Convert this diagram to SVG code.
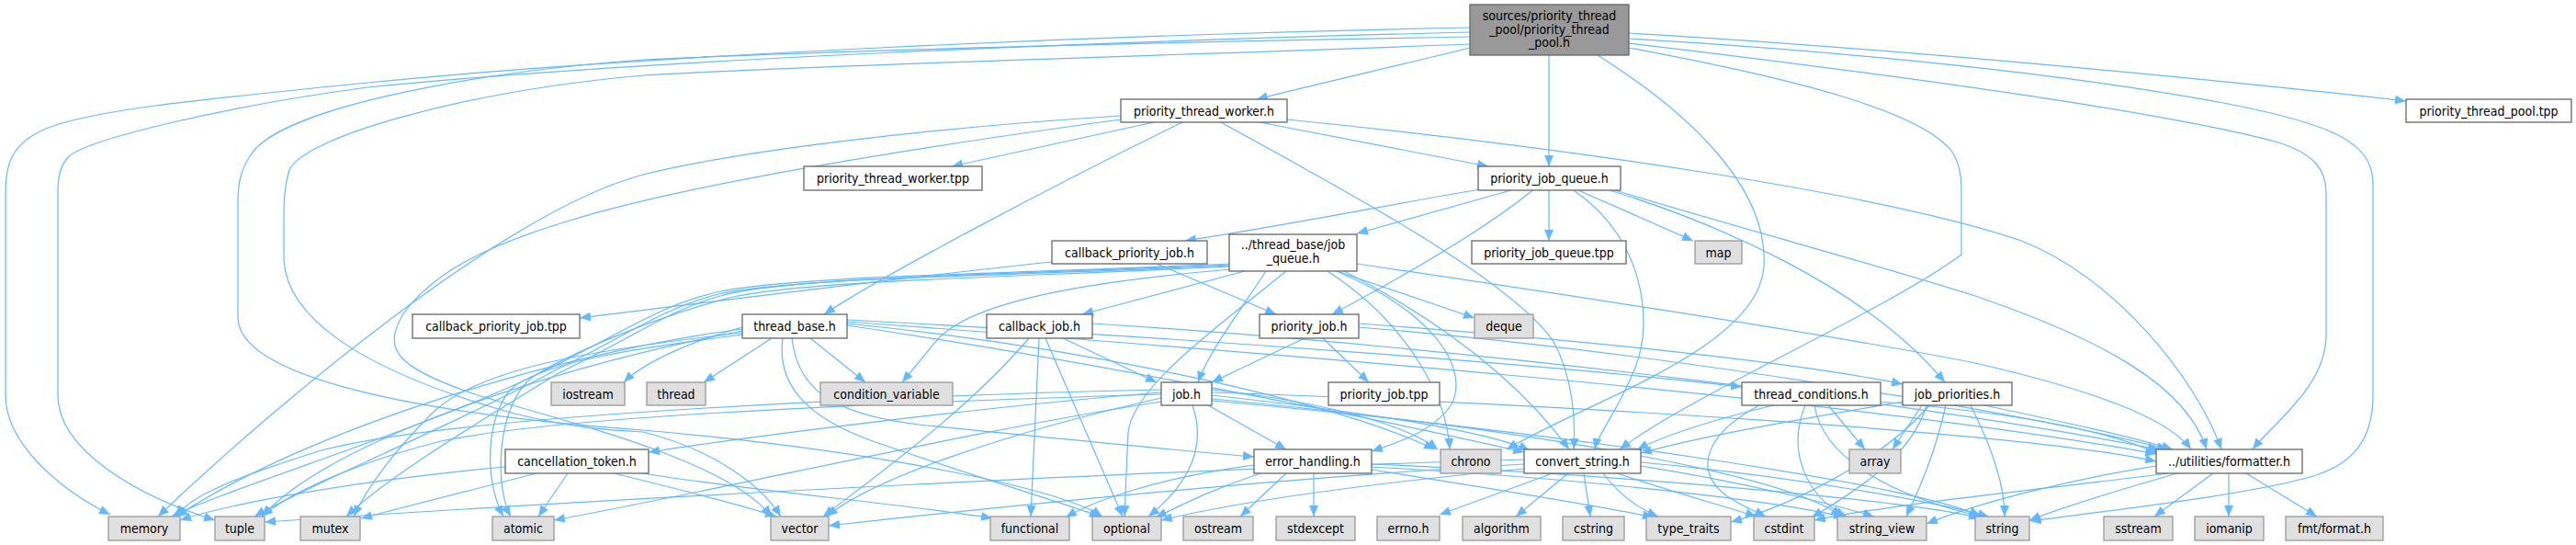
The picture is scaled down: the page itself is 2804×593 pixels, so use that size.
<svg xmlns="http://www.w3.org/2000/svg" width="2804" height="593" viewBox="0 0 2804 593">
<style>
.e{fill:none;stroke:#63b8ff;stroke-width:1.2;marker-end:url(#a)}
.n rect{fill:#fff;stroke:#666;stroke-width:1.3}
.x rect{fill:#e0e0e0;stroke:#999;stroke-width:1.3}
.r rect{fill:#999;stroke:#666;stroke-width:1.3}
text{font-family:"DejaVu Sans Condensed","DejaVu Sans",sans-serif;font-stretch:condensed;font-size:14px;text-anchor:middle;fill:#000}
</style>
<defs>
<marker id="a" viewBox="0 0 12 10" refX="12" refY="5" markerWidth="12" markerHeight="10" orient="auto" markerUnits="userSpaceOnUse"><path d="M0,0 L12,5 L0,10 z" fill="#63b8ff"/></marker>
</defs>
<rect width="2804" height="593" fill="#fff"/>
<g id="edges">
<path class="e" d="M1600,52 C1520,72 1430,92 1368,108"/>
<path class="e" d="M1686,60 L1686,181"/>
<path class="e" d="M1773,36 C2050,52 2400,85 2619,110"/>
<path class="e" d="M1773,42 C2000,55 2250,80 2420,112 C2540,135 2583,155 2583,200 L2583,430 C2583,480 2560,505 2518,518 C2450,538 2300,555 2210,567"/>
<path class="e" d="M1773,47 C2050,80 2350,120 2480,155 C2520,168 2532,185 2532,210 L2532,365 C2532,420 2475,460 2452,489"/>
<path class="e" d="M1773,52 C1950,85 2090,120 2125,165 C2133,178 2135,190 2135,205 L2135,277 C2050,340 1840,430 1763,489"/>
<path class="e" d="M1739,60 C1850,130 1925,210 1920,290 C1915,380 1720,440 1640,489"/>
<path class="e" d="M1600,30 C1200,38 700,60 400,90 C200,110 100,120 50,140 C15,155 6,175 6,210 L6,430 C6,480 60,530 120,560"/>
<path class="e" d="M1600,35 C1200,45 700,65 400,95 C250,115 100,150 75,170 C66,180 63,190 63,210 L63,430 C63,490 150,540 234,566"/>
<path class="e" d="M1600,40 C1300,45 900,55 700,65 C500,80 300,120 272,170 C262,185 259,200 259,220 L259,345 C259,410 450,450 700,468 C950,490 1150,530 1200,562"/>
<path class="e" d="M1600,48 C1300,60 900,70 700,82 C500,100 330,150 315,185 C310,200 309,215 309,240 L309,283 C312,340 380,400 560,450 C620,465 660,468 700,470 C780,490 830,530 850,562"/>
<path class="e" d="M1256,133 L1036,181"/>
<path class="e" d="M1371,133 L1620,181"/>
<path class="e" d="M1287,133 C1150,200 960,300 897,342"/>
<path class="e" d="M1329,133 C1450,200 1640,300 1690,370 C1713,410 1715,460 1713,489"/>
<path class="e" d="M1401,130 C1700,160 2050,210 2200,262 C2300,300 2390,410 2418,489"/>
<path class="e" d="M1220,126 C1000,140 800,165 700,190 C550,230 300,440 172,562"/>
<path class="e" d="M1220,130 C1000,160 750,200 620,240 C520,270 470,300 440,340 C415,380 430,400 520,430 C620,460 790,500 840,562"/>
<path class="e" d="M1611,206 C1500,225 1400,245 1290,262"/>
<path class="e" d="M1645,207 L1477,254"/>
<path class="e" d="M1668,207 C1610,255 1510,310 1450,342"/>
<path class="e" d="M1686,207 L1686,262"/>
<path class="e" d="M1713,207 C1790,260 1800,350 1780,400 C1760,450 1740,470 1736,489"/>
<path class="e" d="M1718,207 L1843,262"/>
<path class="e" d="M1752,207 C1860,240 2030,310 2117,416"/>
<path class="e" d="M1758,207 C1900,250 2050,290 2150,322 C2290,370 2380,420 2402,489"/>
<path class="e" d="M1145,285 C1000,300 800,325 631,346"/>
<path class="e" d="M1259,287 L1389,342"/>
<path class="e" d="M1355,295 L1178,342"/>
<path class="e" d="M1378,295 C1345,345 1315,385 1304,416"/>
<path class="e" d="M1455,295 L1605,346"/>
<path class="e" d="M1340,293 C1200,305 1060,325 1020,370 L982,416"/>
<path class="e" d="M1338,288 C1100,299 860,301 784,322 C726,338 688,368 608,406 C520,460 420,520 377,562"/>
<path class="e" d="M1338,290 C1100,302 860,305 786,326 C700,350 620,385 580,410 C540,440 538,530 556,562"/>
<path class="e" d="M1338,289 C1100,300 860,302 782,320 C722,335 684,364 604,403 C500,460 330,530 277,562"/>
<path class="e" d="M1338,287 C1100,298 860,300 780,318 C720,332 680,360 600,400 C470,465 250,530 187,562"/>
<path class="e" d="M1400,295 C1320,360 1235,420 1228,470 L1224,562"/>
<path class="e" d="M1455,295 C1560,340 1600,400 1580,440 C1560,470 1520,482 1493,491"/>
<path class="e" d="M1463,295 C1560,345 1650,410 1708,489"/>
<path class="e" d="M1477,287 C1700,320 2000,365 2150,395 C2280,425 2360,455 2385,489"/>
<path class="e" d="M1445,295 C1530,350 1575,430 1578,489"/>
<path class="e" d="M840,368 L766,416"/>
<path class="e" d="M882,368 L942,416"/>
<path class="e" d="M808,356 C750,372 700,395 679,416"/>
<path class="e" d="M808,358 C600,385 330,470 192,562"/>
<path class="e" d="M808,362 C650,380 520,400 470,450 C430,490 400,530 385,562"/>
<path class="e" d="M808,364 C700,378 600,392 560,420 C530,445 525,520 548,562"/>
<path class="e" d="M808,360 C600,400 360,480 285,562"/>
<path class="e" d="M922,352 C1200,380 1460,440 1562,489"/>
<path class="e" d="M922,354 C1200,395 1520,460 1659,492"/>
<path class="e" d="M922,350 C1300,378 2000,430 2347,494"/>
<path class="e" d="M922,348 C1300,368 1700,398 1896,421"/>
<path class="e" d="M862,368 C868,420 900,450 1000,462 C1200,482 1300,492 1365,497"/>
<path class="e" d="M852,368 C845,420 880,455 950,480 C1050,515 1150,545 1198,562"/>
<path class="e" d="M1157,368 L1259,416"/>
<path class="e" d="M1120,368 C1050,450 950,520 896,562"/>
<path class="e" d="M1131,368 L1122,562"/>
<path class="e" d="M1138,368 L1222,562"/>
<path class="e" d="M1189,352 C1600,378 2100,440 2350,489"/>
<path class="e" d="M1420,368 L1319,416"/>
<path class="e" d="M1440,368 L1490,416"/>
<path class="e" d="M1479,352 C1700,368 1950,393 2071,418"/>
<path class="e" d="M1479,356 C1800,382 2200,448 2360,489"/>
<path class="e" d="M1264,427 C1100,440 850,470 706,492"/>
<path class="e" d="M1264,424 C1000,430 500,450 350,490 C260,518 205,540 192,562"/>
<path class="e" d="M1264,429 C900,440 600,455 480,480 C380,505 310,540 285,562"/>
<path class="e" d="M1264,433 C1100,470 950,520 900,562"/>
<path class="e" d="M1264,437 C1050,470 800,530 603,566"/>
<path class="e" d="M1298,441 C1315,490 1290,530 1250,562"/>
<path class="e" d="M1315,441 L1400,489"/>
<path class="e" d="M1319,424 C1450,438 1535,465 1565,489"/>
<path class="e" d="M1319,430 C1500,450 1620,470 1665,490"/>
<path class="e" d="M1319,427 C1700,440 2200,470 2347,502"/>
<path class="e" d="M1319,436 C1700,470 2100,530 2155,562"/>
<path class="e" d="M1319,434 C1700,470 1950,520 2005,562"/>
<path class="e" d="M550,508 C400,522 260,545 196,566"/>
<path class="e" d="M584,515 L393,564"/>
<path class="e" d="M618,515 L586,562"/>
<path class="e" d="M668,515 C750,535 810,550 845,562"/>
<path class="e" d="M700,515 C800,532 1000,550 1080,564"/>
<path class="e" d="M1372,515 C1320,532 1285,550 1258,563"/>
<path class="e" d="M1400,515 L1350,562"/>
<path class="e" d="M1430,515 L1430,562"/>
<path class="e" d="M1493,505 C1800,518 2100,548 2155,564"/>
<path class="e" d="M1493,508 C1750,522 1950,548 2008,563"/>
<path class="e" d="M1493,511 C1600,528 1740,550 1800,563"/>
<path class="e" d="M1365,506 C1260,520 1190,545 1160,563"/>
<path class="e" d="M1690,515 L1567,560"/>
<path class="e" d="M1707,515 L1650,562"/>
<path class="e" d="M1724,515 L1731,562"/>
<path class="e" d="M1760,515 C1830,538 1880,552 1912,562"/>
<path class="e" d="M1745,515 C1760,535 1780,552 1805,562"/>
<path class="e" d="M1786,507 C1900,525 2000,550 2040,562"/>
<path class="e" d="M1786,503 C1950,518 2100,545 2165,562"/>
<path class="e" d="M1659,505 C1400,520 1100,550 902,572"/>
<path class="e" d="M1659,510 C1500,525 1350,545 1264,566"/>
<path class="e" d="M1659,500 C1300,510 700,540 288,568"/>
<path class="e" d="M1930,441 C1860,458 1810,475 1782,489"/>
<path class="e" d="M1990,441 L2030,489"/>
<path class="e" d="M1915,441 C1860,470 1840,510 1880,540 C1895,550 1910,556 1922,562"/>
<path class="e" d="M1965,441 C1945,490 1965,540 2010,562"/>
<path class="e" d="M1975,441 C1985,500 2060,540 2160,563"/>
<path class="e" d="M2047,437 C2200,450 2300,470 2350,494"/>
<path class="e" d="M2071,437 C1950,458 1850,475 1786,493"/>
<path class="e" d="M2160,441 C2250,460 2320,475 2365,489"/>
<path class="e" d="M2092,441 L2060,489"/>
<path class="e" d="M2097,441 C2080,500 2010,540 1972,563"/>
<path class="e" d="M2118,441 C2105,500 2085,540 2075,562"/>
<path class="e" d="M2145,441 C2170,490 2182,530 2182,562"/>
<path class="e" d="M2100,441 C2050,500 1950,550 1884,568"/>
<path class="e" d="M2370,515 C2300,535 2245,552 2209,566"/>
<path class="e" d="M2409,515 L2345,562"/>
<path class="e" d="M2426,515 L2426,562"/>
<path class="e" d="M2445,515 L2522,562"/>
<path class="e" d="M2347,507 C2250,522 2150,548 2097,570"/>
<path class="e" d="M2360,515 C2200,535 2050,550 1975,566"/>
</g>
<g id="root" class="r"><rect x="1600" y="5" width="173" height="55"/><text x="1686.5" y="22">sources/priority_thread</text><text x="1686.5" y="37">_pool/priority_thread</text><text x="1686.5" y="51">_pool.h</text></g>
<g id="ptw_h" class="n"><rect x="1220" y="108" width="181" height="25"/><text x="1310.5" y="125.5">priority_thread_worker.h</text></g>
<g id="ptp_tpp" class="n"><rect x="2619" y="108" width="180" height="25"/><text x="2709" y="125.5">priority_thread_pool.tpp</text></g>
<g id="ptw_tpp" class="n"><rect x="875" y="181" width="194" height="26"/><text x="972" y="199">priority_thread_worker.tpp</text></g>
<g id="pjq_h" class="n"><rect x="1609" y="181" width="155" height="26"/><text x="1686.5" y="199">priority_job_queue.h</text></g>
<g id="cpj_h" class="n"><rect x="1145" y="262" width="169" height="25"/><text x="1229.5" y="279.5">callback_priority_job.h</text></g>
<g id="jq_h" class="n"><rect x="1338" y="255" width="139" height="40"/><text x="1407.5" y="271">../thread_base/job</text><text x="1407.5" y="286">_queue.h</text></g>
<g id="pjq_tpp" class="n"><rect x="1602" y="262" width="168" height="25"/><text x="1686" y="279.5">priority_job_queue.tpp</text></g>
<g id="map" class="x"><rect x="1845" y="262" width="51" height="25"/><text x="1870.5" y="279.5">map</text></g>
<g id="cpj_tpp" class="n"><rect x="449" y="342" width="182" height="26"/><text x="540" y="360">callback_priority_job.tpp</text></g>
<g id="tb_h" class="n"><rect x="808" y="342" width="114" height="26"/><text x="865" y="360">thread_base.h</text></g>
<g id="cj_h" class="n"><rect x="1074" y="342" width="115" height="26"/><text x="1131.5" y="360">callback_job.h</text></g>
<g id="pj_h" class="n"><rect x="1371" y="342" width="108" height="26"/><text x="1425" y="360">priority_job.h</text></g>
<g id="deque" class="x"><rect x="1605" y="342" width="64" height="26"/><text x="1637" y="360">deque</text></g>
<g id="iostream" class="x"><rect x="600" y="416" width="80" height="25"/><text x="640" y="433.5">iostream</text></g>
<g id="thread" class="x"><rect x="704" y="416" width="64" height="25"/><text x="736" y="433.5">thread</text></g>
<g id="cv" class="x"><rect x="893" y="416" width="144" height="25"/><text x="965" y="433.5">condition_variable</text></g>
<g id="job_h" class="n"><rect x="1264" y="416" width="55" height="25"/><text x="1291.5" y="433.5">job.h</text></g>
<g id="pj_tpp" class="n"><rect x="1446" y="416" width="121" height="25"/><text x="1506.5" y="433.5">priority_job.tpp</text></g>
<g id="tc_h" class="n"><rect x="1896" y="416" width="151" height="25"/><text x="1971.5" y="433.5">thread_conditions.h</text></g>
<g id="jp_h" class="n"><rect x="2071" y="416" width="119" height="25"/><text x="2130.5" y="433.5">job_priorities.h</text></g>
<g id="ct_h" class="n"><rect x="550" y="489" width="156" height="26"/><text x="628" y="507">cancellation_token.h</text></g>
<g id="eh_h" class="n"><rect x="1365" y="489" width="128" height="26"/><text x="1429" y="507">error_handling.h</text></g>
<g id="chrono" class="x"><rect x="1568" y="489" width="66" height="26"/><text x="1601" y="507">chrono</text></g>
<g id="cs_h" class="n"><rect x="1659" y="489" width="127" height="26"/><text x="1722.5" y="507">convert_string.h</text></g>
<g id="array" class="x"><rect x="2013" y="489" width="56" height="26"/><text x="2041" y="507">array</text></g>
<g id="fmt_h" class="n"><rect x="2347" y="489" width="159" height="26"/><text x="2426.5" y="507">../utilities/formatter.h</text></g>
<g id="memory" class="x"><rect x="118" y="562" width="78" height="26"/><text x="157" y="580">memory</text></g>
<g id="tuple" class="x"><rect x="234" y="562" width="54" height="26"/><text x="261" y="580">tuple</text></g>
<g id="mutex" class="x"><rect x="327" y="562" width="65" height="26"/><text x="359.5" y="580">mutex</text></g>
<g id="atomic" class="x"><rect x="536" y="562" width="67" height="26"/><text x="569.5" y="580">atomic</text></g>
<g id="vector" class="x"><rect x="839" y="562" width="63" height="26"/><text x="870.5" y="580">vector</text></g>
<g id="functional" class="x"><rect x="1078" y="562" width="86" height="26"/><text x="1121" y="580">functional</text></g>
<g id="optional" class="x"><rect x="1189" y="562" width="75" height="26"/><text x="1226.5" y="580">optional</text></g>
<g id="ostream" class="x"><rect x="1288" y="562" width="76" height="26"/><text x="1326" y="580">ostream</text></g>
<g id="stdexcept" class="x"><rect x="1389" y="562" width="86" height="26"/><text x="1432" y="580">stdexcept</text></g>
<g id="errno" class="x"><rect x="1499" y="562" width="68" height="26"/><text x="1533" y="580">errno.h</text></g>
<g id="algorithm" class="x"><rect x="1592" y="562" width="85" height="26"/><text x="1634.5" y="580">algorithm</text></g>
<g id="cstring" class="x"><rect x="1701" y="562" width="67" height="26"/><text x="1734.5" y="580">cstring</text></g>
<g id="type_traits" class="x"><rect x="1792" y="562" width="92" height="26"/><text x="1838" y="580">type_traits</text></g>
<g id="cstdint" class="x"><rect x="1909" y="562" width="66" height="26"/><text x="1942" y="580">cstdint</text></g>
<g id="string_view" class="x"><rect x="2000" y="562" width="97" height="26"/><text x="2048.5" y="580">string_view</text></g>
<g id="string" class="x"><rect x="2150" y="562" width="59" height="26"/><text x="2179.5" y="580">string</text></g>
<g id="sstream" class="x"><rect x="2290" y="562" width="75" height="26"/><text x="2327.5" y="580">sstream</text></g>
<g id="iomanip" class="x"><rect x="2389" y="562" width="75" height="26"/><text x="2426.5" y="580">iomanip</text></g>
<g id="fmtformat" class="x"><rect x="2488" y="562" width="106" height="26"/><text x="2541" y="580">fmt/format.h</text></g>
</svg>
